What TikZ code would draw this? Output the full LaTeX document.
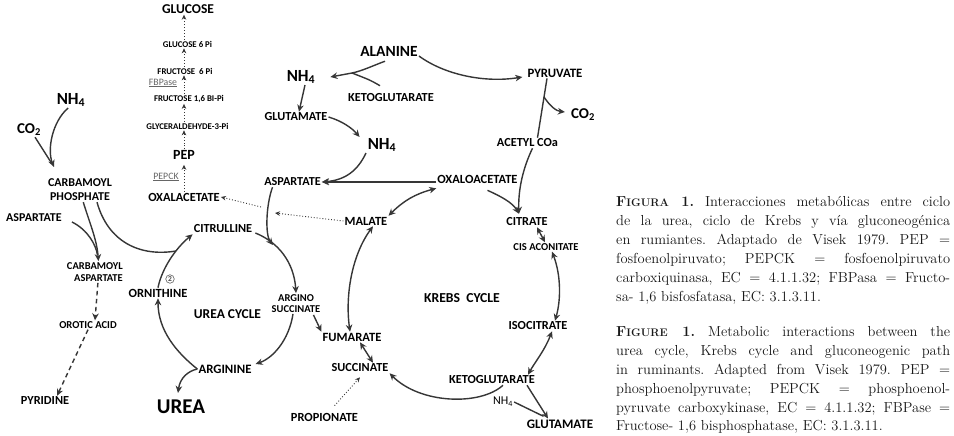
\documentclass[tikz,border=0pt]{standalone}
\usepackage{fontspec}
\usetikzlibrary{arrows.meta,calc}
\newfontfamily\carl{Carlito}
\definecolor{lc}{HTML}{363636}
\newcommand{\jl}[1]{\makebox[334pt][s]{#1}}
\newcommand{\figsc}[1]{\textbf{F{\fontsize{11}{13}\selectfont #1} 1.}}
\tikzset{
  lbl/.style={inner sep=1pt, align=center, text=black, font=\carl\bfseries\fontsize{#1}{#1}\selectfont},
  lbl/.default=12,
  mlbl/.style 2 args={inner sep=1pt, text=black, font=\carl\bfseries\fontsize{#1}{#2}\selectfont},
  rlbl/.style={inner sep=1pt, text=black!60, font=\carl\fontsize{#1}{#1}\selectfont},
  ln/.style={draw=lc, line width=1.4pt},
  arr/.style={ln, -{Stealth[length=7pt,width=6.5pt]}},
  darr/.style={ln, {Stealth[length=7pt,width=6.5pt]}-{Stealth[length=7pt,width=6.5pt]}},
  dotarr/.style={draw=lc, line width=0.9pt, dotted, -{Stealth[length=5pt,width=4.5pt]}},
  dasharr/.style={ln, dash pattern=on 4.5pt off 3.5pt, -{Stealth[length=7pt,width=6.5pt]}},
  capl/.style={anchor=base west, inner sep=0pt, text=black!90, font=\fontsize{14.5}{19}\selectfont\frenchspacing}
}
\begin{document}
\begin{tikzpicture}[x=1pt,y=-1pt]
\useasboundingbox (0,0) rectangle (954,436);
\fill[white] (0,0) rectangle (954,436);

% ---------- gluconeogenesis column
\node[lbl=13.5] (glc) at (188,9) {GLUCOSE};
\node[lbl=8.8] (g6p) at (187.5,44) {GLUCOSE 6 Pi};
\node[lbl=8.8] (f6p) at (185,71) {FRUCTOSE\ \ 6 Pi};
\node[rlbl=9.8] (fbp) at (163,83) {\underline{FBPase}};
\node[lbl=8.8] (f16) at (189,99) {FRUCTOSE 1,6 BI-Pi};
\node[lbl=8.8] (gap) at (187.5,126) {GLYCERALDEHYDE-3-Pi};
\node[lbl=14] (pep) at (184,155) {PEP};
\node[rlbl=9.8] (pepck) at (166,177) {\underline{PEPCK}};
\node[lbl=12.4] (oxa) at (184,197) {OXALACETATE};

\draw[dotarr] (oxa.north -| pep) -- ([yshift=-4pt]pep.south);
\draw[dotarr] (pep.north) -- (gap.south -| pep);
\draw[dotarr] (gap.north -| pep) -- (f16.south -| pep);
\draw[dotarr] (f16.north -| pep) -- (f6p.south -| pep);
\draw[dotarr] (f6p.north -| pep) -- (g6p.south -| pep);
\draw[dotarr] (g6p.north -| pep) -- (glc.south -| pep);

% ---------- left: carbamoyl phosphate
\node[lbl=17] (nhL) at (71,100) {NH\textsubscript{4}};
\node[lbl=15] (co2L) at (29,130) {CO\textsubscript{2}};
\node[mlbl={12}{14}, align=center] (carb) at (80,190) {CARBAMOYL\\PHOSPHATE};
\node[lbl=12] (aspL) at (34,218) {ASPARTATE};
\node[mlbl={10.5}{12.5}, align=right, anchor=east] (casp) at (124,272) {CARBAMOYL\\ASPARTATE};
\node[lbl=10.6] (orot) at (88,325) {OROTIC ACID};
\node[lbl=12.3] (pyd) at (45,401) {PYRIDINE};

\coordinate (jc) at (54,167);
\draw[arr] (nhL.250) .. controls (52,122) and (47,150) .. (jc);
\draw[ln, shorten >=4pt] (co2L.-50) -- (jc);
\draw[arr] (carb.-75) .. controls (90,224) and (97,240) .. ([xshift=3.5pt]casp.north);
\draw[ln, shorten >=6pt] ([shift={(9,4)}]aspL.east) .. controls (88,230) and (96,245) .. ([xshift=3.5pt]casp.north);
\draw[dasharr] ([xshift=3pt]casp.south) -- ([xshift=7pt]orot.north);
\draw[dasharr] (orot.south) -- ([xshift=12pt]pyd.north);

% ---------- urea cycle
\node[lbl=12.3] (cit) at (223,229) {CITRULLINE};
\node[lbl=12.5] (orn) at (158,293) {ORNITHINE};
\node[circle, draw=black!55, line width=0.7pt, inner sep=0.8pt, text=black!70,
      font=\carl\bfseries\fontsize{7.5}{7.5}\selectfont] (n2) at (170,279) {2};
\node[mlbl={10.5}{11.5}, align=center] (as) at (296,303.5) {ARGINO\\SUCCINATE};
\node[lbl=13.5] (ucyc) at (227.5,314) {UREA CYCLE};
\node[lbl=12.8] (arg) at (225,369) {ARGININE};
\node[lbl=21] (urea) at (181,407) {UREA};

\coordinate (jo) at (176,251);
\draw[ln] ([xshift=17pt]carb.south) .. controls (108,242) and (140,257) .. (jo);
\draw[arr] (orn.north) .. controls (162,268) and (176,248) .. (cit.south west);
\draw[arr] ([shift={(2,4)}]cit.east) .. controls (278,242) and (294,262) .. (as.north);
\draw[arr] ([xshift=-3pt]as.south) .. controls (289,340) and (273,358) .. ([shift={(3,-5)}]arg.east);
\draw[arr] (arg.west) .. controls (176,352) and (158,330) .. (orn.south);
\draw[arr] (arg.west) .. controls (188,371) and (180,378) .. ([shift={(-3,-6)}]urea.north);

% ---------- top centre
\node[lbl=15.5] (ala) at (389,51) {ALANINE};
\node[lbl=17] (nhT) at (301,77) {NH\textsubscript{4}};
\node[lbl=12.3] (kgT) at (391,98) {KETOGLUTARATE};
\node[lbl=12.3] (gluT) at (296,117) {GLUTAMATE};
\node[lbl=17] (nhC) at (382,145) {NH\textsubscript{4}};
\node[lbl=12.2] (asp) at (292.5,182) {ASPARTATE};
\node[lbl=12.8] (pyr) at (555,73) {PYRUVATE};
\node[lbl=15] (co2R) at (583,115) {CO\textsubscript{2}};
\node[lbl=12.3] (acoa) at (527.5,143) {ACETYL COa};

\coordinate (jk) at (352,73);
\draw[ln] ([shift={(-4,4)}]ala.south) .. controls (372,66) and (362,71) .. (jk);
\draw[ln] ([shift={(-11,-7)}]kgT.north) .. controls (370,80) .. (jk);
\draw[arr] (jk) -- ([xshift=14pt]nhT.east);
\draw[arr] ([xshift=4pt]nhT.south) -- ([xshift=3pt]gluT.north);
\draw[arr] (gluT.east) .. controls (342,121) and (352,128) .. ([xshift=-7pt]nhC.north west);
\draw[arr] ([xshift=-16pt]nhC.south) .. controls (358,170) and (346,180) .. (asp.east);

% ---------- Krebs cycle
\node[lbl=12.5] (mal) at (366,221) {MALATE};
\node[lbl=12.5] (oaa) at (477.5,179) {OXALOACETATE};
\node[lbl=12.6] (fum) at (352,337) {FUMARATE};
\node[lbl=12.3] (suc) at (360,368) {SUCCINATE};
\node[lbl=12.4] (prop) at (324.5,417) {PROPIONATE};
\node[lbl=12.3] (citr) at (527,222) {CITRATE};
\node[lbl=10.6] (cis) at (546,247) {CIS ACONITATE};
\node[lbl=12.3] (iso) at (538,326) {ISOCITRATE};
\node[lbl=12.3] (kgB) at (492,380) {KETOGLUTARATE};
\node[rlbl=12, text=black] (nhB) at (503,402) {NH\textsubscript{4}};
\node[lbl=13] (gluB) at (560,424) {GLUTAMATE};
\node[lbl=13.7] (krebs) at (462,298) {KREBS\ \ CYCLE};

\draw[arr] ([shift={(-8,1)}]as.south east) -- (fum.north west);
\draw[arr] (oaa.west |- asp.east) -- (asp.east);
\draw[arr] ([shift={(0,5)}]ala.east) .. controls (445,75) and (485,83) .. ([shift={(-4,4)}]pyr.west);
\draw[ln] ([xshift=-8pt]pyr.south) -- ([xshift=10pt]acoa.north);
\coordinate (jp) at (544,97);
\draw[arr] (jp) .. controls (550,106) and (556,111) .. ([shift={(-5,-3)}]co2R.west);
\draw[arr] ([xshift=5pt]acoa.south) .. controls (523,168) and (518,190) .. ([shift={(-8,-3)}]citr.north);
\draw[arr] ([shift={(10,6)}]oaa.south) .. controls (500,196) and (512,202) .. ([shift={(-8,-3)}]citr.north);
\draw[darr] ([xshift=10pt]citr.south) -- ([xshift=-1pt]cis.north);
\draw[darr] ([xshift=6pt]cis.south) .. controls (561,275) and (561,300) .. ([xshift=17pt]iso.north);
\draw[darr] ([xshift=14pt]iso.south) .. controls (545,350) and (535,362) .. ([xshift=36pt]kgB.north);
\draw[arr] ([xshift=11pt]kgB.south) .. controls (480,406) and (420,404) .. (suc.south east);
\draw[arr] ([xshift=35pt]kgB.south) -- ([xshift=-12pt]gluB.north);
\draw[ln, shorten >=5pt] (nhB.east) -- ([xshift=-12pt]gluB.north);
\draw[darr] (mal.north east) to[bend left=15] ([shift={(0,4)}]oaa.south west);
\draw[darr] ([xshift=-2pt]fum.north) .. controls (345,295) and (352,255) .. ([xshift=7pt]mal.south);
\draw[darr] ([xshift=8pt]fum.south) -- ([xshift=13pt]suc.north);
\draw[dotarr] ([shift={(10,-6)}]prop.north) -- ([shift={(0,4)}]suc.south);

\coordinate (ja) at (273,245);
\draw[arr] ([xshift=-20pt]asp.south) .. controls (266,205) and (265,235) .. (ja);

\coordinate (dm) at (275,213);
\coordinate (da) at (261,207);
\draw[dotarr] (mal.west) -- (dm);
\draw[dotarr] (da) -- (oxa.east);

% ---------- captions (one node per justified line)
\node[capl] (es1) at (616,206) {\jl{\figsc{IGURA} Interacciones metabólicas entre ciclo}};
\node[capl] (es2) at (616,225) {\jl{de la urea, ciclo de Krebs y vía gluconeogénica}};
\node[capl] (es3) at (616,244) {\jl{en rumiantes. Adaptado de Visek 1979. PEP =}};
\node[capl] (es4) at (616,263) {\jl{fosfoenolpiruvato; PEPCK = fosfoenolpiruvato}};
\node[capl] (es5) at (616,282) {\jl{carboxiquinasa, EC = 4.1.1.32; FBPasa = Fructo-}};
\node[capl] (es6) at (616,301) {sa- 1,6 bisfosfatasa, EC: 3.1.3.11.};

\node[capl] (en1) at (616,336) {\jl{\figsc{IGURE} Metabolic interactions between the}};
\node[capl] (en2) at (616,355) {\jl{urea cycle, Krebs cycle and gluconeogenic path}};
\node[capl] (en3) at (616,374) {\jl{in ruminants. Adapted from Visek 1979. PEP =}};
\node[capl] (en4) at (616,393) {\jl{phosphoenolpyruvate; PEPCK = phosphoenol-}};
\node[capl] (en5) at (616,412) {\jl{pyruvate carboxykinase, EC = 4.1.1.32; FBPase =}};
\node[capl] (en6) at (616,430) {Fructose- 1,6 bisphosphatase, EC: 3.1.3.11.};
\end{tikzpicture}
\end{document}
